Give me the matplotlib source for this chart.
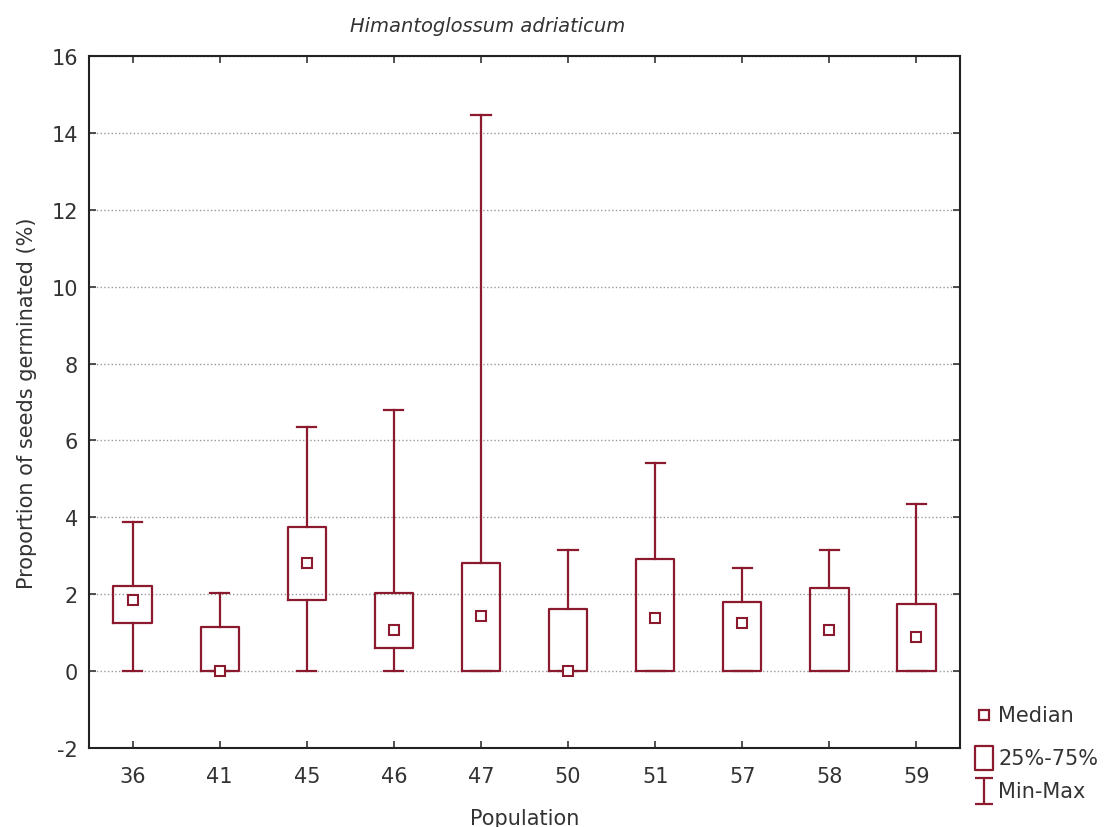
import matplotlib.pyplot as plt
import numpy as np
from matplotlib.lines import Line2D
from matplotlib.path import Path

plt.rcParams['font.family'] = ['DejaVu Sans']
plt.rcParams['axes.unicode_minus'] = False

# Population data (proportion of seeds germinated, %)
populations = ['36', '41', '45', '46', '47', '50', '51', '57', '58', '59']
mins = [0, 0, 0, 0, 0, 0, 0, 0, 0, 0]
q1 = [1.25, 0, 1.85, 0.6, 0, 0, 0, 0, 0, 0]
medians = [1.85, 0, 2.81, 1.07, 1.43, 0, 1.38, 1.25, 1.07, 0.88]
q3 = [2.21, 1.14, 3.75, 2.03, 2.81, 1.61, 2.91, 1.80, 2.16, 1.74]
maxs = [3.87, 2.03, 6.35, 6.79, 14.46, 3.15, 5.41, 2.68, 3.15, 4.34]

col = '#8b1a2e'
txt = '#333333'

fig = plt.figure(figsize=(11.06, 8.28), dpi=100)
ax = fig.add_axes([0.0805, 0.0954, 0.7875, 0.8358])

stats = []
for i in range(len(populations)):
    stats.append({'whislo': mins[i], 'q1': q1[i], 'med': medians[i],
                  'q3': q3[i], 'whishi': maxs[i]})

pos = np.arange(len(populations))
ax.bxp(stats, positions=pos, widths=0.44, showfliers=False,
       boxprops=dict(color=col, linewidth=1.6),
       whiskerprops=dict(color=col, linewidth=1.6),
       capprops=dict(color=col, linewidth=1.6),
       medianprops=dict(linestyle='none'),
       capwidths=0.22)
ax.plot(pos, medians, 's', color=col, mfc='white', mew=1.5, ms=7.5,
        linestyle='none', zorder=5)

ax.set_xlim(-0.5, len(populations) - 0.5)
ax.set_ylim(-2, 16)
ax.set_yticks(np.arange(-2, 17, 2))
ax.set_xticks(pos)
ax.set_xticklabels(populations)
ax.yaxis.grid(True, linestyle=':', color='#999999', linewidth=1)
ax.set_axisbelow(True)
ax.tick_params(direction='in', top=True, right=True, labelsize=15,
               length=5, width=1.2, colors=txt)
ax.tick_params(axis='y', pad=8)
ax.tick_params(axis='x', pad=13)
for s in ax.spines.values():
    s.set_linewidth(1.5)
    s.set_color('#222222')

fig.text(488 / 1106, 1 - 27 / 828, 'Himantoglossum adriaticum', style='italic',
         ha='center', va='center', fontsize=14, color=txt)
ax.set_xlabel('Population', fontsize=15, color=txt, labelpad=16)
ax.set_ylabel('Proportion of seeds germinated (%)', fontsize=15, color=txt,
              labelpad=10)

# legend drawn by hand in figure coordinates
ibeam = Path([(-0.7, 1), (0.7, 1), (0, 1), (0, -1), (-0.7, -1), (0.7, -1)],
             [Path.MOVETO, Path.LINETO, Path.MOVETO, Path.LINETO,
              Path.MOVETO, Path.LINETO])
box = Path([(-0.8, -1), (0.8, -1), (0.8, 1), (-0.8, 1), (-0.8, -1)],
           [Path.MOVETO, Path.LINETO, Path.LINETO, Path.LINETO, Path.CLOSEPOLY])
leg_items = [
    (716, dict(marker='s', ms=7.5), 'Median'),
    (759, dict(marker=box, ms=17), '25%-75%'),
    (792, dict(marker=ibeam, ms=19), 'Min-Max'),
]
for ypix, mk, label in leg_items:
    yf = 1 - ypix / 828
    fig.add_artist(Line2D([984 / 1106], [yf], color=col, mfc='white', mew=1.6,
                          linestyle='none', transform=fig.transFigure, **mk))
    fig.text(998 / 1106, yf, label, ha='left', va='center', fontsize=15,
             color=txt)

plt.savefig('out.png', dpi=100)
